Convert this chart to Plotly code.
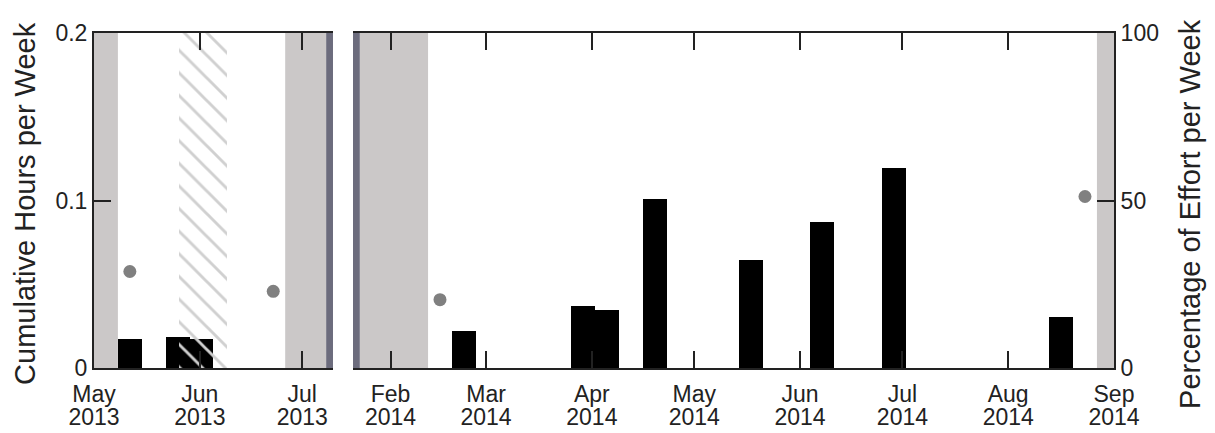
import plotly.graph_objects as go

DAY = 86400000
WEEK = 7 * DAY

# 2013 season (weekly bins, starting on Wednesdays)
weeks_2013 = ["2013-05-08", "2013-05-22", "2013-05-29"]
hours_2013 = [0.0173, 0.0185, 0.0173]
effort_dates_2013 = ["2013-05-11 12:00", "2013-06-22 12:00"]
effort_2013 = [28.8, 22.9]

# 2014 season
weeks_2014 = ["2014-02-19", "2014-03-26", "2014-04-02", "2014-04-16",
              "2014-05-14", "2014-06-04", "2014-06-25", "2014-08-13"]
hours_2014 = [0.0219, 0.0368, 0.0346, 0.1011, 0.0647, 0.0869, 0.1196, 0.0302]
effort_dates_2014 = ["2014-02-15 12:00", "2014-08-23 12:00"]
effort_2014 = [20.4, 51.2]

# no recording (grey), partial recording (hatched), axis break (dark)
off_2013 = [("2013-05-01", "2013-05-08"), ("2013-06-26", "2013-07-08")]
hatch_2013 = ("2013-05-26", "2013-06-09")
gap_2013 = ("2013-07-08", "2013-07-10")
off_2014 = [("2014-01-23", "2014-02-12"), ("2014-08-27", "2014-09-01")]
gap_2014 = ("2014-01-21", "2014-01-23")

ticks_2013 = ["2013-05-01", "2013-06-01", "2013-07-01"]
months_2013 = ["May", "Jun", "Jul"]
years_2013 = ["2013", "2013", "2013"]
ticks_2014 = ["2014-02-01", "2014-03-01", "2014-04-01", "2014-05-01",
              "2014-06-01", "2014-07-01", "2014-08-01", "2014-09-01"]
months_2014 = ["Feb", "Mar", "Apr", "May", "Jun", "Jul", "Aug", "Sep"]
years_2014 = ["2014"] * 8

GREY = "#cbc8c8"
DARK = "#6c6c7d"
AX = "#222222"
FONT = "Liberation Sans, Arial, sans-serif"
tfont = dict(family=FONT, size=23, color=AX)

fig = go.Figure()

# bars, 2013
fig.add_trace(go.Bar(x=weeks_2013, y=hours_2013, width=[WEEK] * len(weeks_2013),
                     offset=0, marker=dict(color="black", line=dict(width=0)),
                     xaxis="x", yaxis="y", showlegend=False))
# hatched partial-recording period drawn over the bars
fig.add_trace(go.Bar(x=[hatch_2013[0]], y=[0.2], width=[14 * DAY], offset=0,
                     marker=dict(color="rgba(0,0,0,0)", line=dict(width=0),
                                 pattern=dict(shape="\\", fgcolor="#d0d0d0", fgopacity=1,
                                              bgcolor="rgba(0,0,0,0)",
                                              size=16, solidity=0.18)),
                     xaxis="x", yaxis="y", showlegend=False, hoverinfo="skip"))
fig.add_trace(go.Scatter(x=effort_dates_2013, y=effort_2013, mode="markers",
                         marker=dict(color="#808080", size=13),
                         xaxis="x", yaxis="y3", showlegend=False))

# bars, 2014
fig.add_trace(go.Bar(x=weeks_2014, y=hours_2014, width=[WEEK] * len(weeks_2014),
                     offset=0, marker=dict(color="black", line=dict(width=0)),
                     xaxis="x2", yaxis="y2", showlegend=False))
fig.add_trace(go.Scatter(x=effort_dates_2014, y=effort_2014, mode="markers",
                         marker=dict(color="#808080", size=13),
                         xaxis="x2", yaxis="y4", showlegend=False))

# empty traces so the year-label axes get drawn
fig.add_trace(go.Scatter(x=ticks_2013, y=[None] * 3, mode="markers", xaxis="x3",
                         yaxis="y", showlegend=False, hoverinfo="skip"))
fig.add_trace(go.Scatter(x=ticks_2014, y=[None] * 8, mode="markers", xaxis="x4",
                         yaxis="y2", showlegend=False, hoverinfo="skip"))

shapes = []
for a, b in off_2013:
    shapes.append(dict(type="rect", xref="x", yref="paper", x0=a, x1=b, y0=0, y1=1,
                       fillcolor=GREY, line_width=0, layer="below"))
shapes.append(dict(type="rect", xref="x", yref="paper", x0=gap_2013[0], x1=gap_2013[1],
                   y0=0, y1=1, fillcolor=DARK, line_width=0, layer="below"))
for a, b in off_2014:
    shapes.append(dict(type="rect", xref="x2", yref="paper", x0=a, x1=b, y0=0, y1=1,
                       fillcolor=GREY, line_width=0, layer="below"))
shapes.append(dict(type="rect", xref="x2", yref="paper", x0=gap_2014[0], x1=gap_2014[1],
                   y0=0, y1=1, fillcolor=DARK, line_width=0, layer="below"))

xcommon = dict(type="date", ticks="inside", ticklen=17, tickwidth=2, tickcolor=AX,
               showline=True, linewidth=2, linecolor=AX, mirror="ticks",
               showgrid=False, zeroline=False, automargin=False,
               tickfont=tfont, ticklabelstandoff=4)
# second row of tick labels (years) on overlaid axes
xyear = dict(type="date", ticks="", showline=False, showgrid=False, zeroline=False,
             automargin=False, tickfont=tfont, ticklabelstandoff=33, side="bottom")
ycommon = dict(ticks="inside", ticklen=17, tickwidth=2, tickcolor=AX,
               showline=True, linewidth=2, linecolor=AX, showgrid=False,
               zeroline=False, automargin=False, tickfont=tfont)

# the page body adds 8px on the top and left, so the figure is 8px smaller
fig.update_layout(
    width=1207, height=425,
    margin=dict(l=86, r=101, t=25, b=65),
    paper_bgcolor="white", plot_bgcolor="white",
    barmode="overlay", bargap=0,
    shapes=shapes,
    xaxis=dict(xcommon, domain=[0, 0.2343], anchor="y",
               range=["2013-05-01", "2013-07-10"],
               tickvals=ticks_2013, ticktext=months_2013),
    xaxis3=dict(xyear, overlaying="x", matches="x", anchor="y",
                range=["2013-05-01", "2013-07-10"],
                tickvals=ticks_2013, ticktext=years_2013),
    xaxis2=dict(xcommon, domain=[0.2539, 1], anchor="y2",
                range=["2014-01-21", "2014-09-01"],
                tickvals=ticks_2014, ticktext=months_2014),
    xaxis4=dict(xyear, overlaying="x2", matches="x2", anchor="y2",
                range=["2014-01-21", "2014-09-01"],
                tickvals=ticks_2014, ticktext=years_2014),
    yaxis=dict(ycommon, domain=[0, 1], anchor="x", range=[0, 0.2],
               tickvals=[0, 0.1, 0.2], ticktext=["0", "0.1", "0.2"]),
    yaxis3=dict(overlaying="y", anchor="x", range=[0, 100], visible=False),
    yaxis2=dict(domain=[0, 1], anchor="x2", range=[0, 0.2], visible=False),
    yaxis4=dict(ycommon, overlaying="y2", anchor="x2", side="right", range=[0, 100],
                tickvals=[0, 50, 100]),
    annotations=[
        dict(text="Cumulative Hours per Week", xref="paper", yref="paper",
             x=-0.0676, y=0.49, textangle=-90, showarrow=False,
             xanchor="center", yanchor="middle",
             font=dict(family=FONT, size=29, color=AX)),
        dict(text="Percentage of Effort per Week", xref="paper", yref="paper",
             x=1.0745, y=0.46, textangle=-90, showarrow=False,
             xanchor="center", yanchor="middle",
             font=dict(family=FONT, size=29, color=AX)),
    ],
)

fig.write_html("out.html")
